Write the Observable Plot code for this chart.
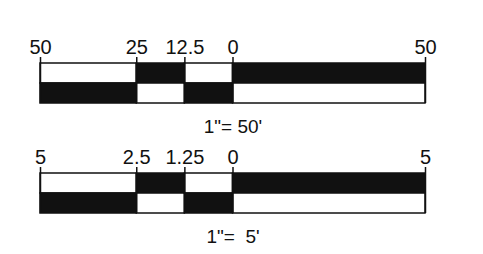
<!DOCTYPE html>
<html>
<head>
<meta charset="utf-8">
<script src="https://cdn.jsdelivr.net/npm/d3@7"></script>
<script src="https://cdn.jsdelivr.net/npm/@observablehq/plot@0.6"></script>
<style>
  html, body { margin: 0; padding: 0; background: #fff; }
  #chart svg { display: block; font-family: "Liberation Sans", Arial, sans-serif; }
</style>
</head>
<body>
<div id="chart"></div>
<script>
// Scale bar 1: 1" = 50'
const ticks50 = [-50, -25, -12.5, 0, 50];
const labels50 = ["50", "25", "12.5", "0", "50"];
const caption50 = "1\"= 50'";
// Scale bar 2: 1" = 5'
const ticks5 = [-5, -2.5, -1.25, 0, 5];
const labels5 = ["5", "2.5", "1.25", "0", "5"];
const caption5 = "1\"=  5'";
// Alternating fill pattern per segment (top row); bottom row is inverted
const topRowPattern = ["white", "#111", "white", "#111"];
const bottomRowPattern = ["#111", "white", "#111", "white"];

const barDefs = [
  {ticks: ticks50, labels: labels50, caption: caption50, offset: 0},
  {ticks: ticks5, labels: labels5, caption: caption5, offset: 5.5}
];

const cells = [], tickRows = [], captions = [];
barDefs.forEach(b => {
  const max = d3.max(b.ticks, Math.abs);
  for (let j = 0; j < b.ticks.length - 1; j++) {
    [topRowPattern, bottomRowPattern].forEach((pat, r) => {
      cells.push({x1: b.ticks[j] / max, x2: b.ticks[j + 1] / max, y1: b.offset + r, y2: b.offset + r + 1, fill: pat[j]});
    });
  }
  b.ticks.forEach((t, k) => tickRows.push({x: t / max, label: b.labels[k], offset: b.offset}));
  captions.push({x: 0, text: b.caption, offset: b.offset});
});

const chart = Plot.plot({
  width: 483,
  height: 254,
  margin: 0,
  style: {background: "white", fontFamily: "Liberation Sans, Arial, sans-serif"},
  x: {domain: [-1, 1], range: [40, 425], axis: null},
  y: {domain: [0, 2], range: [63, 103], axis: null},
  color: {type: "identity"},
  marks: [
    Plot.rect(cells, {x1: "x1", x2: "x2", y1: "y1", y2: "y2", fill: "fill", stroke: "#111", strokeWidth: 1.5}),
    Plot.ruleX(tickRows, {x: "x", y1: d => d.offset - 0.3, y2: d => d.offset + 2, stroke: "#111", strokeWidth: 1.5}),
    Plot.text(tickRows, {x: "x", y: d => d.offset - 0.5, text: "label", fontSize: 20, lineAnchor: "bottom", fill: "#111"}),
    Plot.text(captions, {x: "x", y: d => d.offset + 3.45, text: "text", fontSize: 19, lineAnchor: "bottom", fill: "#111"})
  ]
});
document.getElementById("chart").appendChild(chart);
</script>
</body>
</html>
